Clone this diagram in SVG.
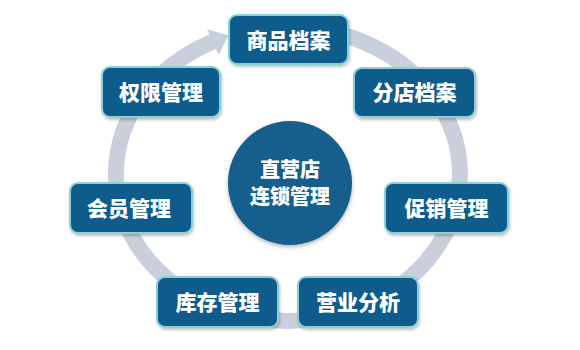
<svg xmlns="http://www.w3.org/2000/svg" width="580" height="350" viewBox="0 0 580 350">
<defs>
<filter id="sh" x="-20%" y="-20%" width="140%" height="150%">
<feDropShadow dx="1" dy="2" stdDeviation="1.5" flood-color="#000" flood-opacity="0.25"/>
</filter>
<filter id="csh" x="-20%" y="-20%" width="140%" height="140%">
<feDropShadow dx="0" dy="2" stdDeviation="2" flood-color="#000" flood-opacity="0.3"/>
</filter>
</defs>
<style>
.box{fill:#0c5b8b;stroke:#8ccfd6;stroke-width:2;filter:url(#sh)}
.lbl{fill:#fff;font-family:"Noto Sans CJK SC","Noto Sans",sans-serif;font-weight:900;font-size:21px;text-anchor:middle}
.ctr{fill:#fff;font-family:"Noto Sans CJK SC","Noto Sans",sans-serif;font-weight:900;font-size:20px;text-anchor:middle}
.ring{fill:none;stroke:#c9d0db;stroke-width:16}
</style>
<rect width="580" height="350" fill="#fff"/>
<g id="connectors">
<path class="ring" d="M300,27.4 A172,147 0 1 1 213,41.7"/>
<polygon points="207,29 228.5,35.5 218.5,55" fill="#c9d0db"/>
</g>
<g id="center">
<circle cx="290" cy="183" r="62" fill="#175e8c" filter="url(#csh)"/>
<text class="ctr" x="290" y="177">直营店</text>
<text class="ctr" x="290" y="204">连锁管理</text>
</g>
<g id="n1"><rect class="box" x="229" y="15" width="119" height="49" rx="8"/><text class="lbl" x="288.5" y="47.5">商品档案</text></g>
<g id="n2"><rect class="box" x="354" y="68" width="121" height="49" rx="8"/><text class="lbl" x="414.5" y="100">分店档案</text></g>
<g id="n3"><rect class="box" x="102" y="67" width="118" height="50" rx="8"/><text class="lbl" x="161" y="99.5">权限管理</text></g>
<g id="n4"><rect class="box" x="70" y="183" width="122" height="50" rx="8"/><text class="lbl" x="129" y="215.5">会员管理</text></g>
<g id="n5"><rect class="box" x="385" y="183" width="123" height="50" rx="8"/><text class="lbl" x="446.5" y="215.5">促销管理</text></g>
<g id="n6"><rect class="box" x="157" y="277" width="121" height="50" rx="8"/><text class="lbl" x="217.5" y="309.5">库存管理</text></g>
<g id="n7"><rect class="box" x="298" y="277" width="120" height="50" rx="8"/><text class="lbl" x="358" y="309.5">营业分析</text></g>
</svg>
